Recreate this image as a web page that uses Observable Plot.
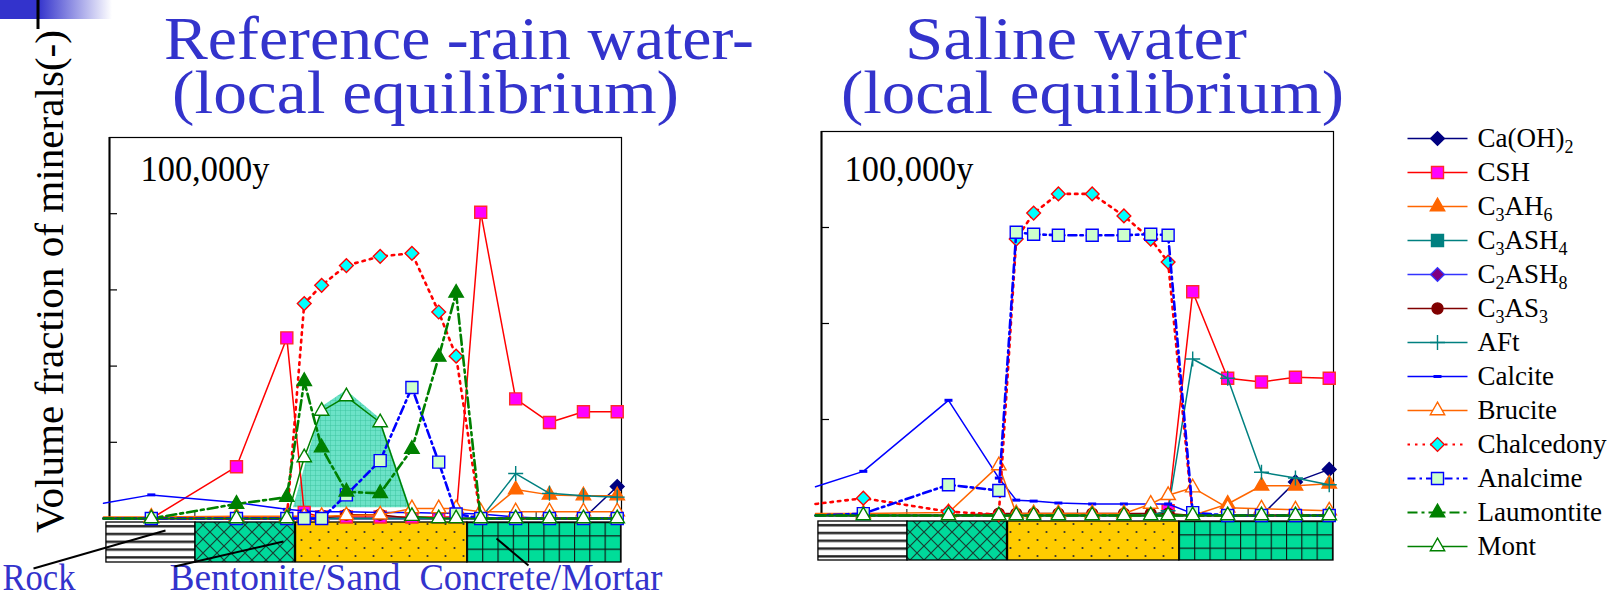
<!DOCTYPE html>
<html><head><meta charset="utf-8">
<script src="https://cdn.jsdelivr.net/npm/d3@7"></script>
<script src="https://cdn.jsdelivr.net/npm/@observablehq/plot@0.6"></script>
<style>
html,body{margin:0;padding:0;background:#fff;}
#root{position:relative;width:1609px;height:598px;overflow:hidden;background:#fff;}
#root > svg{position:absolute;top:0;max-width:none;overflow:visible;}
</style></head><body><div id="root"></div>
<script>
// ---------------- DATA ----------------
const minerals = ["Ca(OH)2","CSH","C3AH6","C3ASH4","C2ASH8","C3AS3","AFt","Calcite","Brucite","Chalcedony","Analcime","Laumontite","Mont"];
// distance of the calculation nodes (first one = boundary node, no marker)
const distance = [-0.35, 2.45, 7.44, 10.39, 11.41, 12.43, 13.88, 15.86, 17.72, 19.29, 20.31, 21.75, 23.80, 25.78, 27.77, 29.75];

// Reference - rain water - (volume fraction)
const rainCaOH2      = [0,0,0,0,0,0,0,0,0,0,0,0,0,0,0,0.042];
const rainCSH        = [0,0,0.068,0.237,0.008,0.002,0.002,0.002,0.002,0.002,0.002,0.402,0.157,0.126,0.140,0.140];
const rainC3AH6      = [0,0,0,0,0,0,0,0,0,0,0,0,0.038,0.031,0.030,0.030];
const rainC3ASH4     = [0,0,0,0,0,0,0,0,0,0,0,0,0,0,0,0];
const rainC2ASH8     = [0,0,0,0,0,0,0,0,0,0,0,0,0,0,0,0];
const rainC3AS3      = [0,0,0,0,0,0,0.005,0.005,0,0,0,0,0,0,0,0];
const rainAFt        = [0,0,0,0,0,0,0,0,0,0,0,0,0.059,0.033,0.030,0.028];
const rainCalcite    = [0.020,0.031,0.021,0.012,0.010,0.009,0.009,0.008,0.008,0.007,0.007,0.006,0.002,0,0,0];
const rainBrucite    = [0.002,0.002,0.003,0.003,0.003,0.003,0.004,0.005,0.013,0.013,0.013,0.009,0.009,0.009,0.009,0.009];
const rainChalcedony = [0,0,0,0,0.282,0.306,0.332,0.344,0.348,0.271,0.213,0,0,0,0,0];
const rainAnalcime   = [0,0,0,0,0,0,0.031,0.076,0.172,0.074,0.006,0,0,0,0,0];
const rainLaumontite = [0,0,0.019,0.028,0.180,0.093,0.035,0.033,0.091,0.212,0.296,0,0,0,0,0];
const rainMont       = [0,0,0,0,0.080,0.141,0.160,0.126,0.003,0,0,0,0,0,0,0];
// shaded montmorillonite zone (reference case)
const montShadeX   = [10.78, 12.43, 13.88, 15.86, 17.64];
const montShadeTop = [0.014, 0.146, 0.168, 0.131, 0.014];
const montShadeBase = 0.014;

// Saline water
const salCaOH2      = [0,0,0,0,0,0,0,0,0,0,0,0,0,0,0.035,0.048];
const salCSH        = [0,0,0,0,0,0,0,0,0,0,0.005,0.233,0.143,0.139,0.144,0.143];
const salC3AH6      = [0,0,0,0,0,0,0,0,0,0,0,0,0.012,0.031,0.031,0.033];
const salC3ASH4     = [0,0,0,0,0,0,0,0,0,0,0,0,0,0,0,0];
const salC2ASH8     = [0,0,0,0,0,0,0,0,0,0,0,0,0,0,0,0];
const salC3AS3      = [0,0,0,0.002,0.002,0.002,0.002,0.002,0.002,0.002,0.002,0,0,0,0,0];
const salAFt        = [0,0,0,0,0,0,0,0,0,0,0.005,0.163,0.143,0.045,0.039,0.032];
const salCalcite    = [0.030,0.046,0.120,0.039,0.016,0.015,0.013,0.012,0.012,0.012,0.012,0.002,0,0,0,0];
const salBrucite    = [0.002,0.002,0.003,0.052,0.002,0.002,0.002,0.002,0.002,0.012,0.021,0.029,0.008,0.007,0.006,0.005];
const salChalcedony = [0.012,0.018,0.004,0.001,0.288,0.315,0.335,0.335,0.312,0.288,0.264,0,0,0,0,0];
const salAnalcime   = [0,0.002,0.032,0.026,0.295,0.293,0.292,0.292,0.292,0.293,0.292,0.003,0,0,0,0];
const salLaumontite = [0,0,0,0,0,0,0,0,0,0,0,0,0,0,0,0];
const salMont       = [0,0,0,0,0,0,0,0,0,0,0,0,0,0,0,0];

// engineered barrier zones
const zoneNames = ["Rock","Bentonite","Bentonite/Sand","Concrete/Mortar"];
const zoneStart = [-0.18, 5.04, 10.93, 20.97];
const zoneEnd   = [5.04, 10.87, 20.97, 30.0];
const regionLabels = ["Rock","Bentonite/Sand","Concrete/Mortar"];
const timeLabel = "100,000y";
const titleLines = ["Reference -rain water-","(local equilibrium)","Saline water","(local equilibrium)"];
const yLabel = "Volume fraction of minerals(-)";

// ---------------- STYLE ----------------
const FONT = "'Liberation Serif','Times New Roman',serif";
const TITLE_BLUE = "#3333cc";
function rad(size){return Math.sqrt(size/Math.PI);}
const symbols = {
  square:{draw(c,s){const r=rad(s);c.rect(-r,-r,2*r,2*r);}},
  diamond:{draw(c,s){const r=rad(s)*1.25;c.moveTo(0,-r);c.lineTo(r,0);c.lineTo(0,r);c.lineTo(-r,0);c.closePath();}},
  triangle:{draw(c,s){const r=rad(s);const h=r*2.1,w=r*1.2;c.moveTo(0,-h*2/3);c.lineTo(w,h/3);c.lineTo(-w,h/3);c.closePath();}},
  circle:{draw(c,s){const r=rad(s);c.moveTo(r,0);c.arc(0,0,r,0,2*Math.PI);}},
  plus:{draw(c,s){const r=rad(s);c.moveTo(-r,0);c.lineTo(r,0);c.moveTo(0,-r);c.lineTo(0,r);}},
  dash:{draw(c,s){const r=rad(s);c.rect(-r,-1.5,2*r,3);}}
};
const styles = {
  "Ca(OH)2":   {stroke:"#000080",sw:1.5,sym:"diamond",fill:"#000080",ms:"#000080",r:5.5},
  "CSH":       {stroke:"#ff0000",sw:1.5,sym:"square",fill:"#ff00ff",ms:"#ff2a2a",r:6},
  "C3AH6":     {stroke:"#ff6600",sw:1.5,sym:"triangle",fill:"#ff6600",ms:"#ff6600",r:6},
  "C3ASH4":    {stroke:"#008080",sw:1.5,sym:"square",fill:"#008080",ms:"#008080",r:6},
  "C2ASH8":    {stroke:"#3333ff",sw:1.5,sym:"diamond",fill:"#800080",ms:"#3333ff",r:5.5},
  "C3AS3":     {stroke:"#800000",sw:1.5,sym:"circle",fill:"#800000",ms:"#800000",r:5.5},
  "AFt":       {stroke:"#008080",sw:1.5,sym:"plus",fill:"none",ms:"#008080",r:7.5},
  "Calcite":   {stroke:"#0000ff",sw:1.5,sym:"dash",fill:"#0000ff",ms:"none",r:4},
  "Brucite":   {stroke:"#ff6600",sw:1.5,sym:"triangle",fill:"white",ms:"#ff6600",r:6},
  "Chalcedony":{stroke:"#ff0000",sw:2.6,dash:"2.5,5",sym:"diamond",fill:"#00ffff",ms:"#ff0000",r:5.5},
  "Analcime":  {stroke:"#0000ff",sw:2.6,dash:"8,4,2.5,4",sym:"square",fill:"#ccffcc",ms:"#0000ff",r:6,always:true},
  "Laumontite":{stroke:"#008000",sw:2.6,dash:"10,4,3,4",sym:"triangle",fill:"#008000",ms:"#008000",r:6},
  "Mont":      {stroke:"#008000",sw:1.5,sym:"triangle",fill:"white",ms:"#008000",r:6,always:true}
};
const zonePattern = ["rock","bent","sand","conc"];

function rowsOf(series){
  const rows=[];
  minerals.forEach((m,k)=>series[k].forEach((v,i)=>rows.push({mineral:m,i,x:distance[i],v})));
  return rows;
}

function addDefs(svg,id,bandTopPx,concStartPx){
  const defs=d3.select(svg).insert("defs",":first-child");
  let p=defs.append("pattern").attr("id",id+"-rock").attr("patternUnits","userSpaceOnUse").attr("width",10).attr("height",7.8).attr("y",bandTopPx);
  p.append("rect").attr("width",10).attr("height",7.8).attr("fill","white");
  p.append("rect").attr("y",3).attr("width",10).attr("height",2.4).attr("fill","#222");
  p=defs.append("pattern").attr("id",id+"-bent").attr("patternUnits","userSpaceOnUse").attr("width",14).attr("height",14);
  p.append("rect").attr("width",14).attr("height",14).attr("fill","#00d99b");
  p.append("path").attr("d","M0,0L14,14M14,0L0,14").attr("stroke","#173f33").attr("stroke-width",1.2);
  p=defs.append("pattern").attr("id",id+"-sand").attr("patternUnits","userSpaceOnUse").attr("width",18).attr("height",16);
  p.append("rect").attr("width",18).attr("height",16).attr("fill","#ffcc00");
  p.append("circle").attr("cx",4.5).attr("cy",4).attr("r",1.1).attr("fill","#333");
  p.append("circle").attr("cx",13.5).attr("cy",12).attr("r",1.1).attr("fill","#333");
  p=defs.append("pattern").attr("id",id+"-conc").attr("patternUnits","userSpaceOnUse").attr("width",15.3).attr("height",13.3).attr("x",concStartPx).attr("y",bandTopPx);
  p.append("rect").attr("width",15.3).attr("height",13.3).attr("fill","#00dd99");
  p.append("path").attr("d","M0,0H15.3M0,0V13.3").attr("stroke","#111").attr("stroke-width",2.2);
  p=defs.append("pattern").attr("id",id+"-hump").attr("patternUnits","userSpaceOnUse").attr("width",5).attr("height",5);
  p.append("rect").attr("width",5).attr("height",5).attr("fill","#5fdfc2");
  p.append("path").attr("d","M0,0H5M0,0V5").attr("stroke","#22b991").attr("stroke-width",0.8);
}

function fitText(svg,content,len){
  svg.querySelectorAll("text").forEach(t=>{ if(t.textContent===content){t.setAttribute("textLength",len);t.setAttribute("lengthAdjust","spacingAndGlyphs");}});
}

function panel(cfg){
  const {series,yMax,left,width,mL,mR,mT,mB,bandTopPx,bandBotPx,id}=cfg;
  const innerW=width-mL-mR, innerH=598-mT-mB;
  const pxX=innerW/30, pxY=innerH/yMax;
  const ux=p=>(p-(left+mL))/pxX;             // page px -> distance units
  const uy=p=>(598-mB-p)/pxY;                // page px -> value
  const rows=rowsOf(series);
  const marks=[];
  if(cfg.shade){
    const sh=montShadeX.map((x,i)=>({x,v:montShadeTop[i]}));
    marks.push(Plot.areaY(sh,{x:"x",y1:montShadeBase,y2:"v",fill:`url(#${id}-hump)`,fillOpacity:0.92}));
  }
  zoneNames.forEach((z,k)=>marks.push(Plot.rect([z],{x1:zoneStart[k],x2:zoneEnd[k],y1:uy(bandTopPx),y2:uy(bandBotPx),fill:`url(#${id}-${zonePattern[k]})`,stroke:"black",strokeWidth:1.3})));
  marks.push(Plot.frame({stroke:"black",strokeWidth:1.2}));
  marks.push(Plot.ruleX([0],{stroke:"black",strokeWidth:2}));
  marks.push(Plot.ruleY(d3.range(1,Math.round(yMax*10)).map(k=>k/10),{x1:0,x2:8/pxX,stroke:"black",strokeWidth:1.2}));
  marks.push(Plot.ruleX([5,15,25],{y1:0,y2:6/pxY,stroke:"#333",strokeWidth:1.2}));
  minerals.forEach(m=>{
    const st=styles[m];
    const data=rows.filter(d=>d.mineral===m);
    marks.push(Plot.line(data,{x:"x",y:"v",stroke:st.stroke,strokeWidth:st.sw,strokeDasharray:st.dash,curve:"linear"}));
    marks.push(Plot.dot(data.filter(d=>d.i>0&&(d.v>0||st.always)),{x:"x",y:"v",symbol:symbols[st.sym],r:st.r,fill:st.fill,stroke:st.ms,strokeWidth:1.4}));
  });
  marks.push(Plot.text([timeLabel],{frameAnchor:"top-left",dx:cfg.tdx,dy:cfg.tdy,lineAnchor:"bottom",textAnchor:"start",fontSize:36,fill:"black"}));
  if(cfg.regions){
    const lx=[2,169,419], ly=589;
    marks.push(Plot.text(regionLabels,{x:(d,i)=>ux(lx[i]),y:uy(ly),text:d=>d,textAnchor:"start",lineAnchor:"bottom",fontSize:37,fill:TITLE_BLUE}));
    const lead=[[33,568,165,530],[174,566,283,541],[528,565,496,538]];
    marks.push(Plot.link(lead,{x1:d=>ux(d[0]),y1:d=>uy(d[1]),x2:d=>ux(d[2]),y2:d=>uy(d[3]),stroke:"black",strokeWidth:2}));
  }
  const svg=Plot.plot({
    width, height:598, marginLeft:mL, marginRight:mR, marginTop:mT, marginBottom:mB,
    x:{domain:[0,30]}, y:{domain:[0,yMax]}, axis:null,
    style:{fontFamily:FONT,background:"transparent",overflow:"visible"},
    marks
  });
  addDefs(svg,id,bandTopPx,left+mL+zoneStart[3]*pxX-left);
  fitText(svg,timeLabel,129);
  if(cfg.regions){fitText(svg,"Rock",73);fitText(svg,"Bentonite/Sand",231);fitText(svg,"Concrete/Mortar",243);}
  svg.style.left=left+"px";
  return svg;
}

const root=document.getElementById("root");

// decoration, titles and y label
const deco=d3.create("svg").attr("width",1609).attr("height",598).style("left","0px");
const g=deco.append("defs").append("linearGradient").attr("id","barGrad");
g.append("stop").attr("offset","0").attr("stop-color","#3333cc");
g.append("stop").attr("offset","0.34").attr("stop-color","#3333cc");
g.append("stop").attr("offset","1").attr("stop-color","#ffffff");
deco.append("rect").attr("x",0).attr("y",0).attr("width",112).attr("height",19).attr("fill","url(#barGrad)");
deco.append("line").attr("x1",38).attr("x2",38).attr("y1",0).attr("y2",29).attr("stroke","black").attr("stroke-width",3);
const titlePos=[[164,59,590],[172,113,507],[905,59,342],[841,113,503]];
titleLines.forEach((t,i)=>deco.append("text").attr("x",titlePos[i][0]).attr("y",titlePos[i][1])
  .attr("textLength",titlePos[i][2]).attr("lengthAdjust","spacingAndGlyphs")
  .attr("font-family",FONT).attr("font-size",62).attr("fill",TITLE_BLUE).text(t));
deco.append("text").attr("transform","translate(63,533) rotate(-90)").attr("font-family",FONT).attr("font-size",41)
  .attr("textLength",503).attr("lengthAdjust","spacingAndGlyphs").attr("fill","black").text(yLabel);
root.appendChild(deco.node());

root.appendChild(panel({series:[rainCaOH2,rainCSH,rainC3AH6,rainC3ASH4,rainC2ASH8,rainC3AS3,rainAFt,rainCalcite,rainBrucite,rainChalcedony,rainAnalcime,rainLaumontite,rainMont],
  yMax:0.5,left:0,width:700,mL:109,mR:79,mT:137,mB:80,bandTopPx:522,bandBotPx:562,id:"rain",shade:true,regions:true,tdx:31,tdy:43}));
root.appendChild(panel({series:[salCaOH2,salCSH,salC3AH6,salC3ASH4,salC2ASH8,salC3AS3,salAFt,salCalcite,salBrucite,salChalcedony,salAnalcime,salLaumontite,salMont],
  yMax:0.4,left:700,width:700,mL:121,mR:67,mT:131,mB:83,bandTopPx:521,bandBotPx:560,id:"sal",shade:false,regions:false,tdx:23,tdy:49}));

// legend
const lmarks=[];
minerals.forEach(m=>{
  const st=styles[m];
  lmarks.push(Plot.link([m],{x1:27,x2:87,y1:d=>d,y2:d=>d,stroke:st.stroke,strokeWidth:Math.min(st.sw,2.2),strokeDasharray:st.dash}));
  lmarks.push(Plot.dot([m],{x:57,y:d=>d,symbol:symbols[st.sym],r:st.r,fill:st.fill,stroke:st.ms,strokeWidth:1.4}));
});
lmarks.push(Plot.text(minerals,{x:97,y:d=>d,text:d=>d,textAnchor:"start",lineAnchor:"middle",fontSize:27,fill:"black"}));
const legend=Plot.plot({width:229,height:598,margin:0,x:{domain:[0,229],range:[0,229]},y:{type:"point",domain:minerals,range:[135,548],padding:0},axis:null,
  style:{fontFamily:FONT,background:"transparent",overflow:"visible"},marks:lmarks});
d3.select(legend).selectAll("text").each(function(){
  const s=this.textContent; if(!/\d/.test(s)) return;
  const t=d3.select(this); t.text(null);
  let sub=false;
  s.match(/\d+|\D+/g).forEach(p=>{
    const isD=/\d/.test(p); const ts=t.append("tspan").text(p);
    if(isD){ts.attr("font-size",18); if(!sub) ts.attr("dy",6); sub=true;}
    else if(sub){ts.attr("dy",-6); sub=false;}
  });
});
legend.style.left="1380px";
root.appendChild(legend);
</script>
</body></html>
